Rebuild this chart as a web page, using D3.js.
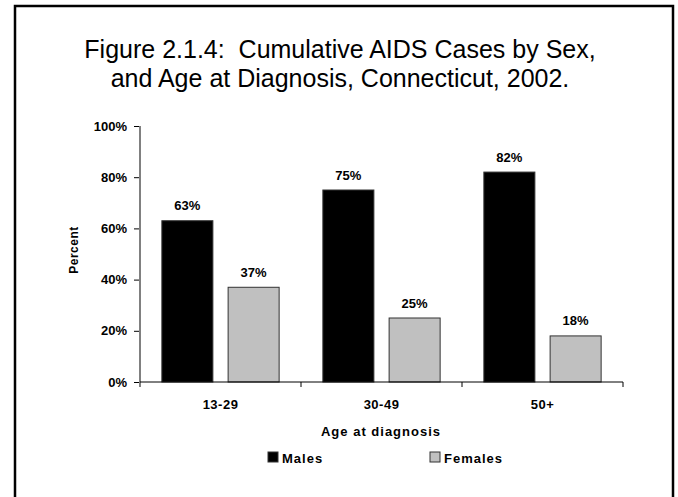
<!DOCTYPE html>
<html>
<head>
<meta charset="utf-8">
<script src="https://cdn.jsdelivr.net/npm/d3@7"></script>
<style>
  html, body { margin: 0; padding: 0; background: #fff; }
  svg { display: block; font-family: "Liberation Sans", Arial, sans-serif; }
</style>
</head>
<body>
<svg id="chart" width="678" height="497"></svg>
<script>
// Age groups and percent of cumulative cases by sex
const ageGroups = ["13-29", "30-49", "50+"];
const malesPct = [63, 75, 82];
const femalesPct = [37, 25, 18];
const seriesNames = ["Males", "Females"];
const seriesColors = ["#000000", "#c0c0c0"];
const yTicks = [0, 20, 40, 60, 80, 100];

const FONT = "Liberation Sans, Arial, sans-serif";
const svg = d3.select("#chart");

// outer frame
svg.append("rect")
  .attr("x", 15).attr("y", 6)
  .attr("width", 658).attr("height", 500)
  .attr("fill", "none").attr("stroke", "#000").attr("stroke-width", 2.5);

// title
const title = svg.append("text")
  .attr("text-anchor", "middle")
  .attr("xml:space", "preserve")
  .attr("font-size", 25).attr("fill", "#000");
title.append("tspan").attr("x", 340).attr("y", 58)
  .text("Figure 2.1.4:  Cumulative AIDS Cases by Sex,");
title.append("tspan").attr("x", 340).attr("y", 87)
  .text("and Age at Diagnosis, Connecticut, 2002.");

const plot = { left: 140, right: 623, top: 126, bottom: 382 };

const x0 = d3.scaleBand().domain(ageGroups)
  .range([plot.left, plot.right]).paddingInner(0).paddingOuter(0);
const x1 = d3.scaleBand().domain(seriesNames)
  .range([0, x0.bandwidth()]).paddingInner(0.23).paddingOuter(0.33);
const y = d3.scaleLinear().domain([0, 100]).range([plot.bottom, plot.top]);

const rows = ageGroups.map((g, i) => ({
  group: g,
  values: [
    { name: seriesNames[0], v: malesPct[i], color: seriesColors[0] },
    { name: seriesNames[1], v: femalesPct[i], color: seriesColors[1] }
  ]
}));

// bars
const groups = svg.append("g").selectAll("g")
  .data(rows).join("g")
  .attr("transform", d => `translate(${x0(d.group)},0)`);

groups.selectAll("rect")
  .data(d => d.values).join("rect")
  .attr("x", d => x1(d.name))
  .attr("y", d => y(d.v))
  .attr("width", x1.bandwidth())
  .attr("height", d => y(0) - y(d.v))
  .attr("fill", d => d.color)
  .attr("stroke", "#333").attr("stroke-width", 1);

// value labels
groups.selectAll("text")
  .data(d => d.values).join("text")
  .attr("x", d => x1(d.name) + x1.bandwidth() / 2)
  .attr("y", d => y(d.v) - 10.5)
  .attr("text-anchor", "middle")
  .attr("font-size", 13).attr("font-weight", "bold")
  .text(d => d.v + "%");

// y axis
const yAxis = svg.append("g")
  .attr("transform", `translate(${plot.left},0)`)
  .call(d3.axisLeft(y).tickValues(yTicks).tickSize(6).tickPadding(7)
    .tickFormat(d => d + "%"));
yAxis.select(".domain").remove();
yAxis.selectAll(".tick line").attr("stroke", "#000");
yAxis.selectAll("text")
  .attr("font-family", FONT)
  .attr("font-size", 13).attr("font-weight", "bold").attr("fill", "#000");
svg.append("line")
  .attr("x1", plot.left).attr("x2", plot.left)
  .attr("y1", plot.top).attr("y2", plot.bottom + 5)
  .attr("stroke", "#808080").attr("stroke-width", 2);

// x axis
const xAxis = svg.append("g")
  .attr("transform", `translate(0,${plot.bottom})`)
  .call(d3.axisBottom(x0).tickSize(0).tickPadding(18));
xAxis.select(".domain").attr("stroke", "#000").attr("d",
  `M${plot.left},0H${plot.right}`);
xAxis.selectAll("text")
  .attr("font-family", FONT)
  .attr("font-size", 13).attr("font-weight", "bold").attr("fill", "#000")
  .attr("letter-spacing", "0.5px");
// boundary ticks between age groups
const boundaries = ageGroups.map(g => x0(g)).concat([plot.right]);
svg.append("g").selectAll("line")
  .data(boundaries.slice(1)).join("line")
  .attr("x1", d => d).attr("x2", d => d)
  .attr("y1", plot.bottom).attr("y2", plot.bottom + 5)
  .attr("stroke", "#000");

// axis titles
svg.append("text")
  .attr("transform", `translate(77.5,${(plot.top + plot.bottom) / 2 - 4}) rotate(-90)`)
  .attr("text-anchor", "middle")
  .attr("font-size", 12).attr("font-weight", "bold").attr("letter-spacing", "0.5px")
  .text("Percent");
svg.append("text")
  .attr("x", 381).attr("y", 436)
  .attr("text-anchor", "middle")
  .attr("font-size", 13).attr("font-weight", "bold").attr("letter-spacing", "1px")
  .text("Age at diagnosis");

// legend
const legendX = [268, 430];
const legend = svg.append("g").selectAll("g")
  .data(seriesNames).join("g")
  .attr("transform", (d, i) => `translate(${legendX[i]},452)`);
legend.append("rect")
  .attr("width", 10).attr("height", 10)
  .attr("fill", (d, i) => seriesColors[i])
  .attr("stroke", "#333").attr("stroke-width", 1);
legend.append("text")
  .attr("x", 14).attr("y", 10.5)
  .attr("font-size", 13).attr("font-weight", "bold").attr("letter-spacing", "1px")
  .text(d => d);
</script>
</body>
</html>
